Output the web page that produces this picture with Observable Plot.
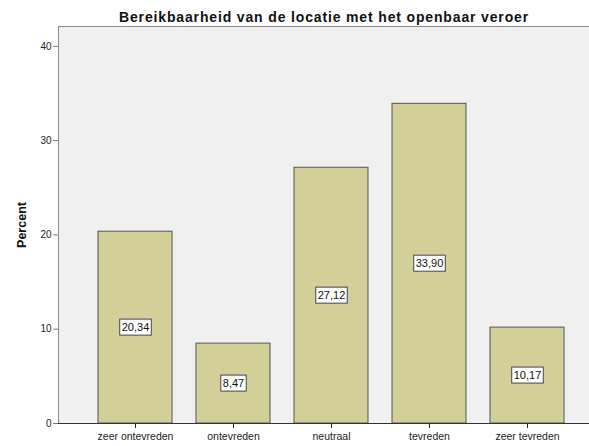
<!DOCTYPE html>
<html>
<head>
<meta charset="utf-8">
<script src="https://cdn.jsdelivr.net/npm/d3@7"></script>
<script src="https://cdn.jsdelivr.net/npm/@observablehq/plot@0.6"></script>
<style>
  html, body { margin: 0; padding: 0; background: #fff; }
  svg { display: block; }
</style>
</head>
<body>
<div id="chart"></div>
<script>
const title = "Bereikbaarheid van de locatie met het openbaar veroer";
const categories = ["zeer ontevreden", "ontevreden", "neutraal", "tevreden", "zeer tevreden"];
const values = [20.34, 8.47, 27.12, 33.90, 10.17];
const yTicks = [0, 10, 20, 30, 40];
const yLabel = "Percent";

const data = categories.map((c, i) => ({category: c, value: values[i]}));
const fmt = v => v.toFixed(2).replace(".", ",");
const font = "Liberation Sans, Arial, sans-serif";

const chart = Plot.plot({
  width: 589,
  height: 446,
  marginLeft: 58,
  marginRight: 0,
  marginTop: 26,
  marginBottom: 23,
  style: {fontFamily: font, background: "#ffffff", color: "#222"},
  x: {
    domain: categories,
    paddingInner: 0.247,
    paddingOuter: 0.326,
    align: 0.61,
    label: null,
    tickSize: 5,
    tickPadding: 4
  },
  y: {
    domain: [0, 42.1],
    ticks: yTicks,
    label: null,
    tickSize: 5,
    tickPadding: 2,
    line: true
  },
  marks: [
    Plot.frame({fill: "#f0f0f0", stroke: null}),
    Plot.ruleY([42.1], {stroke: "#888", strokeWidth: 1}),
    Plot.barY(data, {x: "category", y: "value", fill: "#d3cf98", stroke: "#555", strokeWidth: 1}),
    Plot.ruleY([0], {stroke: "#333", strokeWidth: 1}),
    Plot.text(data, {
      x: "category",
      y: d => d.value / 2,
      text: d => fmt(d.value),
      fontSize: 11,
      fill: "#111"
    }),
    Plot.text([title], {frameAnchor: "top", dy: -14, fontSize: 14, fontWeight: "bold", fill: "#111"}),
    Plot.text([yLabel], {frameAnchor: "left", textAnchor: "middle", dx: -37, rotate: -90, fontSize: 12.5, fontWeight: "bold", fill: "#111"})
  ]
});

document.getElementById("chart").appendChild(chart);

// Style axes
chart.querySelectorAll('g[aria-label^="y-axis"]').forEach(g => {
  g.setAttribute("font-size", "10");
  g.querySelectorAll("path, line").forEach(p => p.setAttribute("stroke", "#777"));
});
chart.querySelectorAll('g[aria-label^="x-axis"]').forEach(g => {
  g.setAttribute("font-size", "10.5");
});

// Title letter spacing
chart.querySelectorAll("text").forEach(t => {
  if (t.textContent === title) t.setAttribute("letter-spacing", "0.85");
});

// White boxes behind bar value labels
const labelSet = new Set(values.map(fmt));
chart.querySelectorAll("text").forEach(t => {
  if (!labelSet.has(t.textContent)) return;
  const bb = t.getBBox();
  const r = document.createElementNS("http://www.w3.org/2000/svg", "rect");
  r.setAttribute("x", bb.x - 2);
  r.setAttribute("y", bb.y - 2);
  r.setAttribute("width", bb.width + 4);
  r.setAttribute("height", bb.height + 4);
  r.setAttribute("fill", "#ffffff");
  r.setAttribute("stroke", "#444");
  r.setAttribute("stroke-width", "1");
  const tr = t.getAttribute("transform");
  if (tr) r.setAttribute("transform", tr);
  t.parentNode.insertBefore(r, t);
});
</script>
</body>
</html>
